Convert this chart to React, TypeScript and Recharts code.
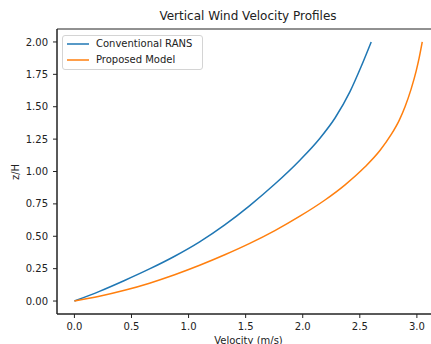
import { LineChart, Line, XAxis, YAxis, Legend, ReferenceArea, Label } from 'recharts'

// velocity (m/s) against normalised height z/H
const ransVelocity = [0, 0.219, 0.439, 0.658, 0.878, 1.097, 1.317, 1.536, 1.756, 1.975, 2.151, 2.283, 2.414, 2.511, 2.6]
const ransHeight = [0, 0.075, 0.159, 0.248, 0.346, 0.457, 0.588, 0.737, 0.903, 1.087, 1.257, 1.413, 1.616, 1.808, 2.0]

const modelVelocity = [0, 0.219, 0.439, 0.658, 0.878, 1.097, 1.317, 1.536, 1.756, 1.975, 2.195, 2.371, 2.546, 2.678, 2.774, 2.845, 2.897, 2.95, 2.994, 3.02, 3.047]
const modelHeight = [0, 0.037, 0.083, 0.138, 0.203, 0.276, 0.357, 0.445, 0.544, 0.655, 0.78, 0.897, 1.036, 1.164, 1.284, 1.395, 1.502, 1.638, 1.777, 1.877, 2.0]

const xTicks = [0, 0.5, 1, 1.5, 2, 2.5, 3]
const yTicks = [0, 0.25, 0.5, 0.75, 1, 1.25, 1.5, 1.75, 2]

const seriesNames = ['Conventional RANS', 'Proposed Model']
const seriesColors = ['#1f77b4', '#ff7f0e']

const ransData = ransVelocity.map((u, i) => ({ u, z: ransHeight[i] }))
const modelData = modelVelocity.map((u, i) => ({ u, z: modelHeight[i] }))

const X_DOMAIN: [number, number] = [-0.1525, 3.2025]
const Y_DOMAIN: [number, number] = [-0.1, 2.1]
const FONT = "'DejaVu Sans', sans-serif"
const INK = '#222'

function LegendBox() {
  return (
    <div
      style={{
        position: 'relative',
        width: 141,
        height: 35,
        boxSizing: 'border-box',
        border: '1px solid #d4d4d4',
        borderRadius: 3,
        background: 'rgba(255,255,255,0.8)',
        fontFamily: FONT,
        fontSize: 10,
        color: INK,
      }}
    >
      {seriesNames.map((name, i) => (
        <div key={name} style={{ position: 'absolute', left: 0, top: 2 + i * 16, height: 12, width: 139 }}>
          <svg width={30} height={12} style={{ position: 'absolute', left: 0, top: 0 }}>
            <line x1={4} x2={26} y1={6} y2={6} stroke={seriesColors[i]} strokeWidth={1.5} />
          </svg>
          <span style={{ position: 'absolute', left: 33, top: 0, lineHeight: '12px', whiteSpace: 'nowrap' }}>{name}</span>
        </div>
      ))}
    </div>
  )
}

export default function App() {
  return (
    <div style={{ position: 'fixed', left: 0, top: 0, width: 431, height: 344, overflow: 'hidden', background: '#fff' }}>
      <div
        style={{
          position: 'absolute',
          left: 0,
          top: 9,
          width: 496,
          textAlign: 'center',
          fontFamily: FONT,
          fontSize: 12,
          lineHeight: '14px',
          color: INK,
        }}
      >
        Vertical Wind Velocity Profiles
      </div>
      <LineChart
        width={440}
        height={344}
        margin={{ top: 29, right: 0, bottom: 0, left: 0 }}
        style={{ position: 'absolute', left: 0, top: 0 }}
      >
        <XAxis
          type="number"
          dataKey="u"
          domain={X_DOMAIN}
          allowDataOverflow
          ticks={xTicks}
          tickFormatter={(v: number) => v.toFixed(1)}
          height={30}
          tickSize={4}
          tickMargin={5}
          tick={{ fontSize: 10, fill: INK, fontFamily: FONT }}
          stroke={INK}
        >
          <Label
            content={(props: any) => {
              const vb = props.viewBox
              return (
                <text x={vb.x + vb.width / 2} y={343.5} textAnchor="middle" fontSize={10} fontFamily={FONT} fill={INK}>
                  Velocity (m/s)
                </text>
              )
            }}
          />
        </XAxis>
        <YAxis
          type="number"
          domain={Y_DOMAIN}
          allowDataOverflow
          ticks={yTicks}
          tickFormatter={(v: number) => v.toFixed(2)}
          width={57}
          tickSize={4}
          tickMargin={5}
          tick={{ fontSize: 10, fill: INK, fontFamily: FONT }}
          stroke={INK}
        >
          <Label
            content={() => (
              <text
                x={15}
                y={172}
                transform="rotate(-90, 15, 172)"
                textAnchor="middle"
                dominantBaseline="central"
                fontSize={10}
                fontFamily={FONT}
                fill={INK}
              >
                z/H
              </text>
            )}
          />
        </YAxis>
        <ReferenceArea
          x1={X_DOMAIN[0]}
          x2={X_DOMAIN[1]}
          y1={Y_DOMAIN[0]}
          y2={Y_DOMAIN[1]}
          fill="none"
          stroke={INK}
          strokeWidth={1}
          ifOverflow="visible"
        />
        <Line
          data={ransData}
          dataKey="z"
          type="monotone"
          stroke={seriesColors[0]}
          strokeWidth={1.5}
          dot={false}
          isAnimationActive={false}
          name={seriesNames[0]}
        />
        <Line
          data={modelData}
          dataKey="z"
          type="monotone"
          stroke={seriesColors[1]}
          strokeWidth={1.5}
          dot={false}
          isAnimationActive={false}
          name={seriesNames[1]}
        />
        <Legend
          layout="horizontal"
          verticalAlign="middle"
          align="center"
          wrapperStyle={{ left: 62, top: 35, width: 'auto' }}
          content={() => <LegendBox />}
        />
      </LineChart>
    </div>
  )
}
